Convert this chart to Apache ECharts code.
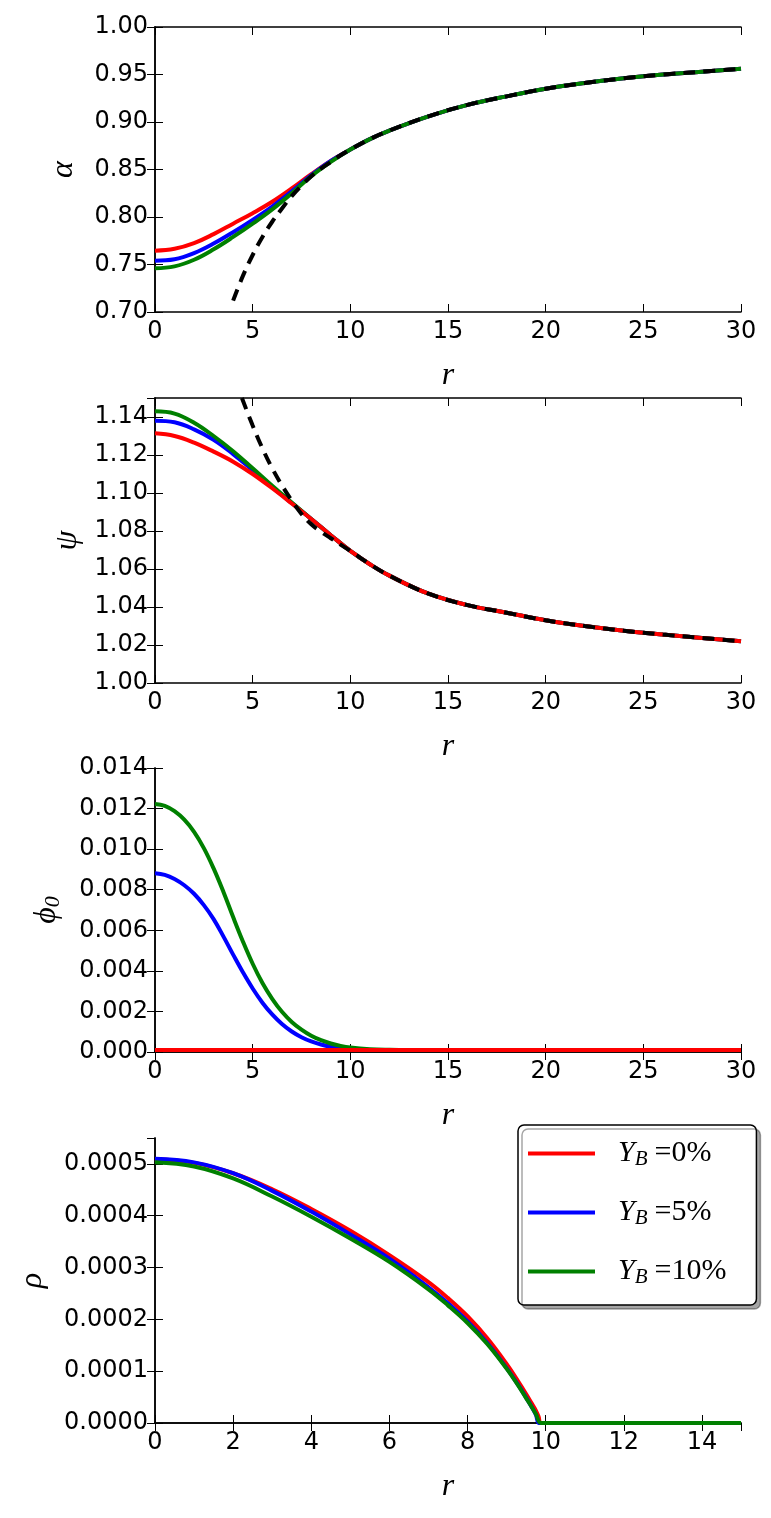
<!DOCTYPE html>
<html>
<head>
<meta charset="utf-8">
<script src="https://cdn.jsdelivr.net/npm/echarts/dist/echarts.min.js"></script>
<style>
  html, body { margin: 0; padding: 0; background: #fff; }
  #main { width: 771px; height: 1518px; }
</style>
</head>
<body>
<div id="main"></div>
<script>
var chartDom = document.getElementById("main");
var myChart = echarts.init(chartDom);
var option;

// series names (legend)
const names = ["Y_B=0%", "Y_B=5%", "Y_B=10%"];
const legendLabels = {
  "Y_B=0%": "{y|Y}{b|B}{e|=0%}",
  "Y_B=5%": "{y|Y}{b|B}{e|=5%}",
  "Y_B=10%": "{y|Y}{b|B}{e|=10%}"
};

// panel 1 : alpha
const rA = [0, 1, 2, 3, 4, 5, 6, 7, 8, 9, 10, 11, 12, 14, 16, 18, 20, 22, 24, 26, 28, 30];
const alphaRed   = [0.7645, 0.7665, 0.7725, 0.782, 0.793, 0.804, 0.816, 0.830, 0.845, 0.859, 0.871, 0.882, 0.891, 0.906, 0.918, 0.927, 0.935, 0.941, 0.946, 0.950, 0.953, 0.956];
const alphaBlue  = [0.754, 0.7555, 0.762, 0.772, 0.784, 0.797, 0.811, 0.827, 0.844, 0.859, 0.871, 0.882, 0.891, 0.906, 0.918, 0.927, 0.935, 0.941, 0.946, 0.950, 0.953, 0.956];
const alphaGreen = [0.746, 0.748, 0.755, 0.766, 0.779, 0.793, 0.808, 0.825, 0.843, 0.858, 0.871, 0.882, 0.891, 0.906, 0.918, 0.927, 0.935, 0.941, 0.946, 0.950, 0.953, 0.956];
const rAd = [4, 4.5, 5, 5.5, 6, 6.5, 7, 7.5, 8, 8.5, 9, 9.5, 10, 11, 12, 14, 16, 18, 20, 22, 24, 26, 28, 30];
const alphaDash = [0.712, 0.738, 0.760, 0.779, 0.795, 0.809, 0.822, 0.833, 0.843, 0.851, 0.858, 0.865, 0.871, 0.882, 0.891, 0.906, 0.918, 0.927, 0.935, 0.941, 0.946, 0.950, 0.953, 0.956];

// panel 2 : psi
const psiRed   = [1.1314, 1.1300, 1.1265, 1.1218, 1.1165, 1.1100, 1.1025, 1.0945, 1.0863, 1.0778, 1.0695, 1.0625, 1.0565, 1.047, 1.041, 1.037, 1.033, 1.030, 1.0275, 1.0255, 1.0237, 1.022];
const psiBlue  = [1.138, 1.1372, 1.1335, 1.128, 1.1205, 1.112, 1.1032, 1.0947, 1.0863, 1.0778, 1.0695, 1.0625, 1.0565, 1.047, 1.041, 1.037, 1.033, 1.030, 1.0275, 1.0255, 1.0237, 1.022];
const psiGreen = [1.143, 1.1418, 1.137, 1.130, 1.122, 1.113, 1.1038, 1.0950, 1.0863, 1.0778, 1.0695, 1.0625, 1.0565, 1.047, 1.041, 1.037, 1.033, 1.030, 1.0275, 1.0255, 1.0237, 1.022];
const rPd = [4.45, 5, 5.5, 6, 6.5, 7, 7.5, 8, 8.5, 9, 9.5, 10, 11, 12, 14, 16, 18, 20, 22, 24, 26, 28, 30];
const psiDash = [1.150, 1.1355, 1.1235, 1.113, 1.104, 1.096, 1.089, 1.0835, 1.0796, 1.0762, 1.0728, 1.0695, 1.0625, 1.0565, 1.047, 1.041, 1.037, 1.033, 1.030, 1.0275, 1.0255, 1.0237, 1.022];

// panel 3 : phi0
const rF = [0, 0.5, 1, 1.5, 2, 2.5, 3, 3.5, 4, 4.5, 5, 5.5, 6, 6.5, 7, 7.5, 8, 8.5, 9, 9.5, 10, 11, 12, 13, 14, 16, 18, 20, 25, 30];
const phiRed   = [0.0001, 0.0001, 0.0001, 0.0001, 0.0001, 0.0001, 0.0001, 0.0001, 0.0001, 0.0001, 0.0001, 0.0001, 0.0001, 0.0001, 0.0001, 0.0001, 0.0001, 0.0001, 0.0001, 0.0001, 0.0001, 0.0001, 0.0001, 0.0001, 0.0001, 0.0001, 0.0001, 0.0001, 0.0001, 0.0001];
const phiBlue  = [0.00881, 0.00873, 0.00853, 0.00822, 0.00780, 0.00724, 0.00655, 0.00570, 0.00480, 0.00393, 0.00313, 0.00243, 0.00185, 0.00138, 0.00101, 0.00073, 0.00052, 0.00037, 0.00026, 0.00018, 0.00013, 0.0001, 0.0001, 0.0001, 0.0001, 0.0001, 0.0001, 0.0001, 0.0001, 0.0001];
const phiGreen = [0.01223, 0.01213, 0.01187, 0.01145, 0.01085, 0.01005, 0.00905, 0.00790, 0.00665, 0.00545, 0.00435, 0.00340, 0.00262, 0.00198, 0.00148, 0.00110, 0.00080, 0.00058, 0.00042, 0.00030, 0.00022, 0.00014, 0.00011, 0.0001, 0.0001, 0.0001, 0.0001, 0.0001, 0.0001, 0.0001];

// panel 4 : rho
const rR = [0, 1, 2, 3, 4, 5, 6, 7, 7.5, 8, 8.5, 9, 9.3, 9.5, 9.65, 9.75, 9.82, 9.87, 10, 11, 12, 13, 14, 15];
const rhoRed   = [0.000509, 0.000502, 0.000482, 0.000451, 0.000413, 0.000371, 0.000324, 0.000272, 0.000241, 0.000206, 0.000164, 0.000114, 0.000080, 0.000056, 0.000037, 0.000024, 0.000012, 0, 0, 0, 0, 0, 0, 0];
const rhoBlue  = [0.000510, 0.000503, 0.000482, 0.000448, 0.000408, 0.000364, 0.000317, 0.000262, 0.000231, 0.000196, 0.000155, 0.000106, 0.000073, 0.000049, 0.000030, 0.000016, 0, 0, 0, 0, 0, 0, 0, 0];
const rhoGreen = [0.000503, 0.000495, 0.000472, 0.000437, 0.000398, 0.000356, 0.000311, 0.000258, 0.000227, 0.000193, 0.000153, 0.000105, 0.000072, 0.000048, 0.000030, 0.000017, 0.000004, 0, 0, 0, 0, 0, 0, 0];

const pairs = function (xs, ys) {
  return xs.map(function (x, i) { return [x, ys[i]]; });
};

const labelFont = { color: "#000", fontFamily: "DejaVu Sans", fontSize: 24 };
const mathName = { color: "#000", fontFamily: "Liberation Serif", fontStyle: "italic", fontSize: 32 };

const grids = [
  { left: 155, top: 27, width: 586, height: 285 },
  { left: 155, top: 398, width: 586, height: 285 },
  { left: 155, top: 768, width: 586, height: 284 },
  { left: 155, top: 1138, width: 586, height: 285 }
];

const xSpec = [
  { max: 30, interval: 5, showMax: true },
  { max: 30, interval: 5, showMax: true },
  { max: 30, interval: 5, showMax: true },
  { max: 15, interval: 2, showMax: false }
];
const ySpec = [
  { min: 0.70, max: 1.00, interval: 0.05, dec: 2, showMax: true, name: "α", gap: 75 },
  { min: 1.00, max: 1.15, interval: 0.02, dec: 2, showMax: false, name: "ψ", gap: 71 },
  { min: 0, max: 0.014, interval: 0.002, dec: 3, showMax: true, name: "{p|ϕ}{s|0}", gap: 92 },
  { min: 0, max: 0.00055, interval: 0.0001, dec: 4, showMax: false, name: "ρ", gap: 106 }
];

const xAxes = [];
const yAxes = [];
grids.forEach(function (g, i) {
  const xs = xSpec[i];
  const ys = ySpec[i];
  const tick = { show: true, inside: true, length: 8, lineStyle: { color: "#000", width: 1 } };
  const line = { show: true, lineStyle: { color: "#000", width: 1.5 } };
  xAxes.push({
    type: "value", gridIndex: i, position: "bottom", min: 0, max: xs.max, interval: xs.interval,
    axisLine: line, axisTick: tick, splitLine: { show: false },
    axisLabel: Object.assign({ margin: 8, showMaxLabel: xs.showMax, showMinLabel: true }, labelFont),
    name: "r", nameLocation: "middle", nameGap: 48, nameTextStyle: mathName
  });
  xAxes.push({
    type: "value", gridIndex: i, position: "top", min: 0, max: xs.max, interval: xs.interval,
    axisLine: line, axisTick: tick, splitLine: { show: false }, axisLabel: { show: false }
  });
  yAxes.push({
    type: "value", gridIndex: i, position: "left", min: ys.min, max: ys.max, interval: ys.interval,
    axisLine: line, axisTick: tick, splitLine: { show: false },
    axisLabel: Object.assign({
      margin: 7, showMaxLabel: ys.showMax, showMinLabel: true,
      formatter: (function (d) { return function (v) { return v.toFixed(d); }; })(ys.dec)
    }, labelFont),
    name: ys.name, nameLocation: "middle", nameGap: ys.gap, nameRotate: 90,
    nameTextStyle: Object.assign({}, mathName, {
      rich: {
        p: { fontFamily: "Liberation Serif", fontStyle: "italic", fontSize: 32, color: "#000" },
        s: { fontFamily: "Liberation Serif", fontSize: 22, color: "#000", padding: [12, 0, 0, 0], lineHeight: 22 }
      }
    })
  });
  yAxes.push({
    type: "value", gridIndex: i, position: "right", min: ys.min, max: ys.max, interval: ys.interval,
    axisLine: line, axisTick: tick, splitLine: { show: false }, axisLabel: { show: false }
  });
});

const colors = { "Y_B=0%": "#ff0000", "Y_B=5%": "#0000ff", "Y_B=10%": "#008000" };

const mkLine = function (name, panel, xs, ys, z) {
  return {
    name: name, type: "line", xAxisIndex: panel * 2, yAxisIndex: panel * 2,
    data: pairs(xs, ys), showSymbol: false, symbol: "none",
    smooth: 0.4, z: z, clip: true,
    color: colors[name],
    lineStyle: { color: colors[name], width: 4 }
  };
};
const mkDash = function (panel, xs, ys) {
  return {
    name: "asymptotic", type: "line", xAxisIndex: panel * 2, yAxisIndex: panel * 2,
    data: pairs(xs, ys), showSymbol: false, symbol: "none",
    smooth: 0.4, z: 10, clip: true,
    lineStyle: { color: "#000", width: 4, type: [12, 8] }
  };
};

option = {
  animation: false,
  backgroundColor: "#fff",
  grid: grids.map(function (g) { return Object.assign({ outerBoundsMode: "none", containLabel: false }, g); }),
  xAxis: xAxes,
  yAxis: yAxes,
  legend: {
    data: names,
    orient: "vertical",
    left: 518,
    top: 1125,
    icon: "rect",
    itemWidth: 67,
    itemHeight: 4,
    itemGap: 26,
    padding: [12, 30, 17, 10],
    backgroundColor: "#fff",
    borderColor: "#000",
    borderWidth: 1.5,
    borderRadius: 6,
    shadowColor: "rgba(0,0,0,0.35)",
    shadowBlur: 0,
    shadowOffsetX: 4,
    shadowOffsetY: 4,
    selectedMode: false,
    formatter: function (name) { return legendLabels[name]; },
    textStyle: {
      padding: [0, 0, 0, 18],
      rich: {
        y: { fontFamily: "Liberation Serif", fontStyle: "italic", fontSize: 30, color: "#000", lineHeight: 32 },
        b: { fontFamily: "Liberation Serif", fontStyle: "italic", fontSize: 21, color: "#000", lineHeight: 20, padding: [12, 7, 0, 0] },
        e: { fontFamily: "Liberation Serif", fontSize: 30, color: "#000", lineHeight: 32 }
      }
    }
  },
  series: [
    mkLine("Y_B=0%", 0, rA, alphaRed, 2),
    mkLine("Y_B=5%", 0, rA, alphaBlue, 3),
    mkLine("Y_B=10%", 0, rA, alphaGreen, 4),
    mkDash(0, rAd, alphaDash),

    mkLine("Y_B=5%", 1, rA, psiBlue, 2),
    mkLine("Y_B=10%", 1, rA, psiGreen, 3),
    mkLine("Y_B=0%", 1, rA, psiRed, 4),
    mkDash(1, rPd, psiDash),

    mkLine("Y_B=5%", 2, rF, phiBlue, 2),
    mkLine("Y_B=10%", 2, rF, phiGreen, 3),
    mkLine("Y_B=0%", 2, rF, phiRed, 4),

    mkLine("Y_B=0%", 3, rR, rhoRed, 2),
    mkLine("Y_B=5%", 3, rR, rhoBlue, 3),
    mkLine("Y_B=10%", 3, rR, rhoGreen, 4)
  ]
};

option && myChart.setOption(option);
</script>
</body>
</html>
